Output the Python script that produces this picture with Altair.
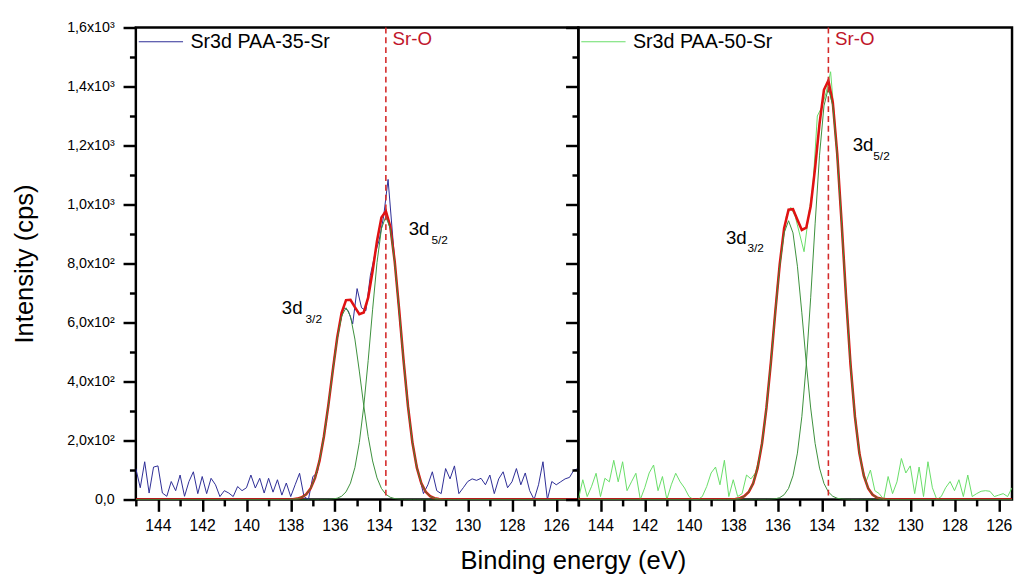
import json
import altair as alt
import pandas as pd

FONT = "Liberation Sans"

# ---------------- data ----------------
raw_energy_left = [round(145.0 - 0.2 * i, 1) for i in range(101)]
raw_intensity_left = [
    105, 40, 128, 22, 110, 114, 22, 11, 61, 30,
    83, 11, 61, 94, 20, 78, 20, 72, 50, 10,
    30, 22, 10, 44, 30, 40, 83, 39, 72, 22,
    72, 25, 67, 15, 56, 10, 50, 89, 10, 0,
    78, 90, 175, 260, 380, 500, 590, 650, 640, 595,
    715, 650, 640, 760, 830, 880, 960, 1085, 900, 720,
    550, 400, 250, 150, 80, 20, 50, 94, 30, 20,
    105, 70, 114, 20, 40, 61, 70, 65, 72, 50,
    83, 20, 70, 94, 40, 60, 105, 50, 90, 30,
    0, 50, 128, 0, 61, 50, 60, 70, 75, 100,
    105,
]

raw_energy_right = [round(145.0 - 0.2 * i, 1) for i in range(99)]
raw_intensity_right = [
    0, 67, 10, 45, 89, 10, 72, 60, 133, 60,
    128, 30, 60, 89, 0, 40, 90, 117, 30, 78,
    0, 50, 89, 60, 39, 10, 0, 0, 10, 44,
    90, 110, 50, 133, 10, 67, 10, 20, 83, 70,
    90, 150, 240, 390, 560, 730, 860, 960, 990, 960,
    900, 840, 960, 1060, 1300, 1330, 1380, 1450, 1270, 1050,
    810, 570, 370, 220, 120, 60, 100, 30, 20, 0,
    78, 20, 60, 139, 90, 114, 20, 110, 10, 128,
    40, 0, 10, 40, 61, 30, 67, 10, 83, 10,
    20, 28, 30, 28, 10, 15, 20, 10, 40,
]

fit_energy = [
    145.0, 138.9, 138.7, 138.5, 138.3, 138.1, 137.9, 137.7, 137.5, 137.3,
    137.1, 136.9, 136.7, 136.5, 136.3, 136.1, 135.9, 135.7, 135.5, 135.3,
    135.1, 134.9, 134.7, 134.5, 134.3, 134.1, 133.9, 133.7, 133.5, 133.3,
    133.1, 132.9, 132.7, 132.5, 132.3, 132.1, 131.9, 131.7, 131.5, 131.3,
    131.1, 130.9, 130.7, 130.5, 125.0,
]

left_fit_3d32 = [
    0, 0, 0, 0, 0.1, 0.4, 1.1, 3.0, 7.6, 17.6,
    37.6, 73.3, 130.8, 213.5, 318.7, 435.4, 543.9, 621.7, 650, 621.7,
    543.9, 435.4, 318.7, 213.5, 130.8, 73.3, 37.6, 17.6, 7.6, 3.0,
    1.1, 0.4, 0.1, 0, 0, 0, 0, 0, 0, 0,
    0, 0, 0, 0, 0,
]
left_fit_3d52 = [
    0, 0, 0, 0, 0, 0, 0, 0, 0, 0,
    0, 0, 0, 0.2, 0.5, 1.6, 4.4, 11.2, 26.0, 55.5,
    108.2, 193.2, 315.3, 470.7, 643.0, 803.3, 918.1, 960, 918.1, 803.3,
    643.0, 470.7, 315.3, 193.2, 108.2, 55.5, 26.0, 11.2, 4.4, 1.6,
    0.5, 0.2, 0, 0, 0,
]
left_envelope = [
    0, 0, 0, 0, 0.1, 0.4, 1.1, 3.0, 7.6, 17.6,
    37.6, 73.3, 130.8, 213.7, 319.2, 437.0, 548.3, 632.9, 676.0, 677.2,
    652.1, 628.6, 634.0, 684.2, 773.8, 876.6, 955.7, 977.6, 925.7, 806.3,
    644.1, 471.1, 315.4, 193.2, 108.2, 55.5, 26.0, 11.2, 4.4, 1.6,
    0.5, 0.2, 0, 0, 0,
]

right_fit_3d32 = [
    0, 0, 0, 0, 0.2, 0.5, 1.5, 4.3, 11.0, 25.6,
    54.6, 106.5, 190.1, 310.3, 463.3, 633.0, 790.8, 903.8, 945, 903.8,
    790.8, 633.0, 463.3, 310.3, 190.1, 106.5, 54.6, 25.6, 11.0, 4.3,
    1.5, 0.5, 0.2, 0, 0, 0, 0, 0, 0, 0,
    0, 0, 0, 0, 0,
]
right_fit_3d52 = [
    0, 0, 0, 0, 0, 0, 0, 0, 0, 0,
    0, 0, 0, 0.2, 0.8, 2.3, 6.4, 16.2, 37.8, 80.6,
    157.2, 280.7, 458.1, 684.0, 934.4, 1167.3, 1334.2, 1395, 1334.2, 1167.3,
    934.4, 684.0, 458.1, 280.7, 157.2, 80.6, 37.8, 16.2, 6.4, 2.3,
    0.8, 0.2, 0, 0, 0,
]
right_envelope = [
    0, 0, 0, 0, 0.2, 0.5, 1.5, 4.3, 11.0, 25.6,
    54.6, 106.5, 190.1, 310.5, 464.1, 635.3, 797.2, 920.0, 982.8, 984.4,
    948.0, 913.7, 921.4, 994.3, 1124.5, 1273.8, 1388.8, 1420.6, 1345.2, 1171.6,
    935.9, 684.5, 458.3, 280.7, 157.2, 80.6, 37.8, 16.2, 6.4, 2.3,
    0.8, 0.2, 0, 0, 0,
]

series_names = ["Sr3d PAA-35-Sr", "Sr3d PAA-50-Sr"]
raw_colors = ["#2b2b95", "#66dd66"]
x_min = [125.0, 125.4]
panel_width = [450, 441]

sr_o_energy = [133.7]
sr_o_label = ["Sr-O"]
sr_o_text_pos = [133.4, 1540]

peak_main = ["3d", "3d"]
peak_sub = ["3/2", "5/2"]
left_main_E = [138.4, 132.67]
left_main_I = [630, 896]
left_sub_E = [137.33, 131.64]
left_sub_I = [600, 866]
right_main_E = [138.33, 132.6]
right_main_I = [866, 1180]
right_sub_E = [137.36, 131.67]
right_sub_I = [840, 1150]

x_tick_values = list(range(125, 146))
y_tick_values = list(range(0, 1601, 100))
y_major_values = [0, 200, 400, 600, 800, 1000, 1200, 1400, 1600]
y_major_labels = ["0,0", "2,0x10²", "4,0x10²", "6,0x10²", "8,0x10²",
                  "1,0x10³", "1,2x10³", "1,4x10³", "1,6x10³"]

x_title = "Binding energy (eV)"
y_title = "Intensity (cps)"

# ---------------- chart ----------------
y_label_expr = (json.dumps(y_major_labels, ensure_ascii=False)
                + "[indexof(" + json.dumps(y_major_values) + ", datum.value)] || ''")
x_label_expr = "datum.value % 2 === 0 ? datum.label : ''"


def make_panel(idx, raw_e, raw_i, c1, c2, env, main_E, main_I, sub_E, sub_I):
    first = idx == 0
    xscale = alt.Scale(domain=[x_min[idx], 145.0], reverse=True, nice=False, zero=False)
    yscale = alt.Scale(domain=[0, 1600], nice=False)
    xaxis_kw = dict(
        values=x_tick_values, labelExpr=x_label_expr,
        tickSize={"condition": {"test": "datum.value % 2 === 0", "value": 12}, "value": 6.5},
        tickWidth=2.5, tickColor="black", domain=False, grid=False,
        labelFont=FONT, labelFontSize=16, labelColor="black", labelPadding=7,
        labelFlush=False, labelOverlap=False, labelBound=False,
        titleFont=FONT, titleFontSize=26, titleFontWeight="normal", titleColor="black",
        titlePadding=14,
    )
    if first:
        xaxis_kw["titleX"] = 444.5
        xaxis_kw["titleAlign"] = "center"
    xaxis = alt.Axis(**xaxis_kw)
    yaxis = alt.Axis(
        values=y_tick_values, labelExpr=y_label_expr, labels=first,
        tickSize={"condition": {"test": "datum.value % 200 === 0", "value": 13}, "value": 6.5},
        tickWidth=2.5, tickColor="black", domain=False, grid=False,
        labelFont=FONT, labelFontSize=14.5, labelColor="black", labelPadding=9,
        titleFont=FONT, titleFontSize=26, titleFontWeight="normal", titleColor="black",
        titlePadding=30,
    )
    xt = x_title if first else None
    yt = y_title if first else None

    def X(field="E"):
        return alt.X(f"{field}:Q", scale=xscale, axis=xaxis, title=xt)

    def Y(field):
        return alt.Y(f"{field}:Q", scale=yscale, axis=yaxis, title=yt)

    raw_df = pd.DataFrame({"E": raw_e, "I": raw_i, "series": series_names[idx]})
    fit_df = pd.DataFrame({"E": fit_energy, "c1": c1, "c2": c2, "env": env})

    raw = alt.Chart(raw_df).mark_line(strokeWidth=1, clip=True).encode(
        x=X(), y=Y("I"),
        color=alt.Color(
            "series:N",
            scale=alt.Scale(domain=[series_names[idx]], range=[raw_colors[idx]]),
            legend=alt.Legend(
                orient="none", legendX=2.5, legendY=-8.5, title=None,
                symbolType="stroke", symbolSize=2025, symbolStrokeWidth=1,
                labelFont=FONT, labelFontSize=20, labelColor="black",
                labelOffset=7, padding=0,
            ),
        ),
    )
    envl = alt.Chart(fit_df).mark_line(strokeWidth=2.6, color="#e01212", clip=True).encode(
        x=X(), y=Y("env"))
    comp1 = alt.Chart(fit_df).mark_line(strokeWidth=1, color="#3a8f3a", clip=True).encode(
        x=X(), y=Y("c1"))
    comp2 = alt.Chart(fit_df).mark_line(strokeWidth=1, color="#3a8f3a", clip=True).encode(
        x=X(), y=Y("c2"))
    rule = alt.Chart(pd.DataFrame({"E": sr_o_energy})).mark_rule(
        color="#d42a2a", strokeWidth=1.6, strokeDash=[6, 4]).encode(x=X())
    sro = alt.Chart(pd.DataFrame({"E": [sr_o_text_pos[0]], "I": [sr_o_text_pos[1]],
                                  "t": sr_o_label})).mark_text(
        font=FONT, fontSize=19, color="#c0152a", align="left", baseline="alphabetic"
    ).encode(x=X(), y=Y("I"), text="t:N")
    main_t = alt.Chart(pd.DataFrame({"E": main_E, "I": main_I, "t": peak_main})).mark_text(
        font=FONT, fontSize=19, color="black", align="left", baseline="alphabetic"
    ).encode(x=X(), y=Y("I"), text="t:N")
    sub_t = alt.Chart(pd.DataFrame({"E": sub_E, "I": sub_I, "t": peak_sub})).mark_text(
        font=FONT, fontSize=12, color="black", align="left", baseline="alphabetic"
    ).encode(x=X(), y=Y("I"), text="t:N")

    return alt.layer(raw, envl, comp1, comp2, rule, sro, main_t, sub_t).properties(
        width=panel_width[idx], height=480)


left = make_panel(0, raw_energy_left, raw_intensity_left, left_fit_3d32, left_fit_3d52,
                  left_envelope, left_main_E, left_main_I, left_sub_E, left_sub_I)
right = make_panel(1, raw_energy_right, raw_intensity_right, right_fit_3d32, right_fit_3d52,
                   right_envelope, right_main_E, right_main_I, right_sub_E, right_sub_I)

chart = alt.hconcat(left, right, spacing=0, bounds="flush").resolve_scale(
    color="independent").resolve_legend(color="independent").configure_view(
    stroke="black", strokeWidth=2.5).properties(
    padding={"left": 2, "top": 5, "right": 0, "bottom": 0}, background="white")

chart.save("out.html", embed_options={"renderer": "svg", "actions": False})
